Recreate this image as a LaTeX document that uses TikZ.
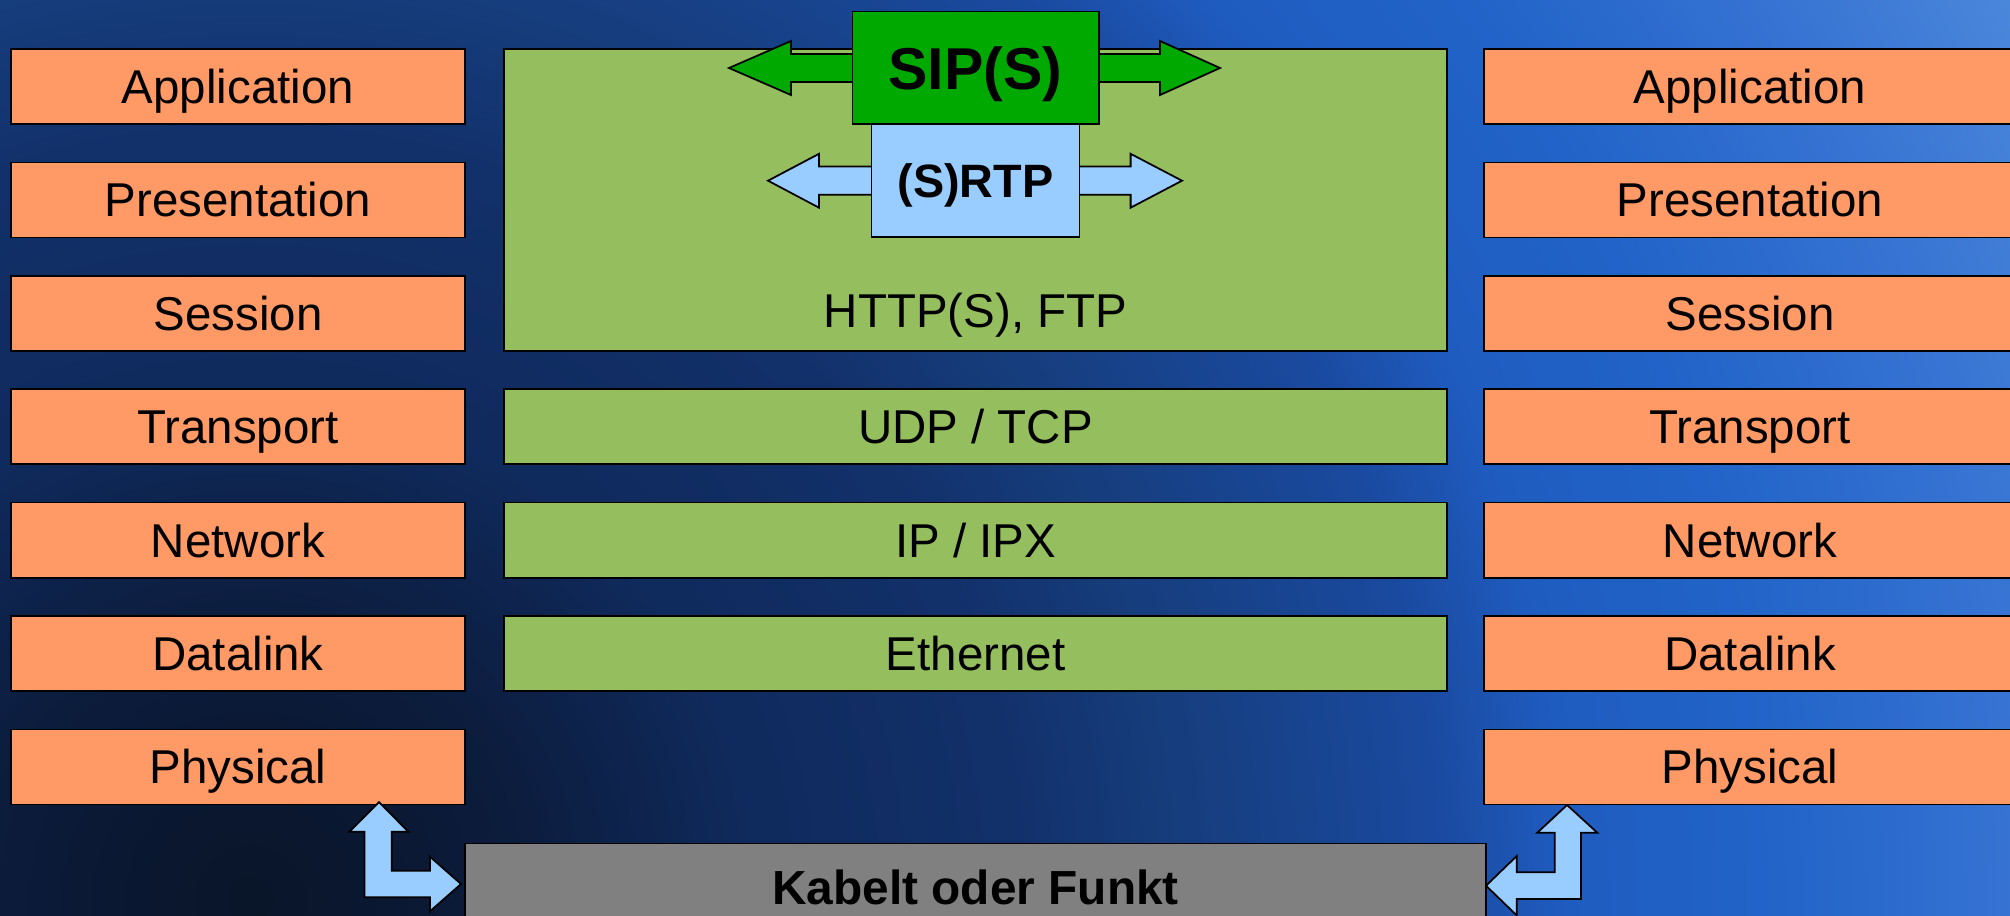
\documentclass[tikz,border=0pt]{standalone}
\usepackage{fontspec}
\setmainfont{Liberation Sans}
\usetikzlibrary{calc}
\definecolor{osiorange}{HTML}{FF9966}
\definecolor{layergreen}{HTML}{95BF5F}
\definecolor{sipgreen}{HTML}{00A900}
\definecolor{rtpblue}{HTML}{99CCFF}
\definecolor{cablegray}{HTML}{808080}
\definecolor{bga}{HTML}{091629}
\definecolor{bgb}{HTML}{0A1730}
\definecolor{bgc}{HTML}{0C1C3C}
\definecolor{bgd}{HTML}{0F2A5C}
\definecolor{bge}{HTML}{12306A}
\definecolor{bgf}{HTML}{163D7C}
\definecolor{bgg}{HTML}{1A4AA0}
\definecolor{bgh}{HTML}{1F5CC0}
\definecolor{bgi}{HTML}{2163C8}
\definecolor{bgj}{HTML}{3572D2}
\definecolor{bgk}{HTML}{4A86DA}
\definecolor{bgl}{HTML}{5090E0}
\pgfdeclareradialshading{bgshade}{\pgfpoint{0bp}{0bp}}{color(0bp)=(bga); color(1.25bp)=(bgb); color(3.05bp)=(bgc); color(5.7bp)=(bgd); color(8.6bp)=(bge); color(10.55bp)=(bgf); color(13.5bp)=(bgg); color(14.95bp)=(bgh); color(17.15bp)=(bgi); color(19.9bp)=(bgj); color(22.35bp)=(bgk); color(25bp)=(bgl); color(50bp)=(bgl)}
\begin{document}
\begin{tikzpicture}[x=0.01cm,y=-0.01cm,
  boxbase/.style={draw=black, line width=0.5pt, inner sep=0pt, text=black,
    font=\fontsize{13.5pt}{16pt}\selectfont, text height=9.67pt, text depth=0pt},
  osibox/.style={boxbase, fill=osiorange, minimum width=4.53cm, minimum height=0.75cm},
  osiboxR/.style={osibox, minimum width=5.32cm},
  greenbox/.style={boxbase, fill=layergreen, minimum width=9.43cm, minimum height=0.75cm},
  plaintext/.style={inner sep=0pt, text=black, font=\fontsize{13.5pt}{16pt}\selectfont, text height=9.67pt, text depth=0pt},
  sipbox/.style={boxbase, fill=sipgreen, minimum width=2.461cm, minimum height=1.128cm,
    font=\bfseries\fontsize{16.8pt}{19pt}\selectfont, text height=12.0pt},
  rtpbox/.style={boxbase, fill=rtpblue, minimum width=2.077cm, minimum height=1.127cm,
    font=\bfseries\fontsize{13.3pt}{16pt}\selectfont, text height=9.5pt},
  cablebox/.style={boxbase, fill=cablegray, minimum width=10.204cm, minimum height=0.87cm,
    font=\bfseries\fontsize{13.6pt}{16pt}\selectfont, text height=9.74pt},
  sipshape/.style={draw=black, line width=0.5pt, fill=sipgreen, line join=miter},
  blueshape/.style={draw=black, line width=0.5pt, fill=rtpblue, line join=miter}]
\useasboundingbox (0,0) rectangle (2010,915);
\begin{scope}
\clip (0,0) rectangle (2010,915);
\shade[shading=bgshade] (250,900) circle (22cm);
% left OSI stack
\node[osibox] (appL) at (238,86.5) {Application};
\node[osibox] (preL) at (238,199.9) {Presentation};
\node[osibox] (sesL) at (238,313.3) {Session};
\node[osibox] (traL) at (238,426.7) {Transport};
\node[osibox] (netL) at (238,540.1) {Network};
\node[osibox] (datL) at (238,653.5) {Datalink};
\node[osibox] (phyL) at (238,766.9) {Physical};
% right OSI stack
\node[osiboxR] (appR) at (1750,86.5) {Application};
\node[osiboxR] (preR) at (1750,199.9) {Presentation};
\node[osiboxR] (sesR) at (1750,313.3) {Session};
\node[osiboxR] (traR) at (1750,426.7) {Transport};
\node[osiboxR] (netR) at (1750,540.1) {Network};
\node[osiboxR] (datR) at (1750,653.5) {Datalink};
\node[osiboxR] (phyR) at (1750,766.9) {Physical};
% middle protocol stack
\node[greenbox, minimum height=3.018cm] (http) at (975.5,199.9) {};
\node[plaintext] (httptext) at (975.5,310) {HTTP(S), FTP};
\node[greenbox] (udp) at (975.5,426.7) {UDP / TCP};
\node[greenbox] (ip) at (975.5,540.1) {IP / IPX};
\node[greenbox] (eth) at (975.5,653.5) {Ethernet};
% (S)RTP double arrow and box
\draw[blueshape] (768,180.7) -- (819,153.8) -- (819,166.6) -- (1130.6,166.6) -- (1130.6,153.8)
  -- (1182,180.7) -- (1130.6,207.7) -- (1130.6,194.8) -- (819,194.8) -- (819,207.7) -- cycle;
\node[rtpbox] (rtp) at (975.5,180.7) {(S)RTP};
% SIP(S) double arrow and box
\draw[sipshape] (729,68) -- (791,41) -- (791,54) -- (1160,54) -- (1160,41)
  -- (1220,68) -- (1160,95) -- (1160,82) -- (791,82) -- (791,95) -- cycle;
\node[sipbox] (sip) at (975.5,67.9) {SIP(S)};
% cable / radio
\node[cablebox] (cable) at (975.5,887) {Kabelt oder Funkt};
% bent arrows
\draw[blueshape] (379,802) -- (408.3,831.7) -- (391.7,831.7) -- (391.7,870.7) -- (430,870.7)
  -- (430,856.7) -- (461,884) -- (430,911.3) -- (430,897.3) -- (364.5,897.3)
  -- (364.5,831.7) -- (349.3,831.7) -- cycle;
\draw[blueshape] (1567,805) -- (1597.3,832.7) -- (1581,832.7) -- (1581,899) -- (1516.7,899)
  -- (1516.7,915.4) -- (1486,885.7) -- (1516.7,856) -- (1516.7,872.3) -- (1554.7,872.3)
  -- (1554.7,832.7) -- (1537.3,832.7) -- cycle;
\end{scope}
\end{tikzpicture}
\end{document}
